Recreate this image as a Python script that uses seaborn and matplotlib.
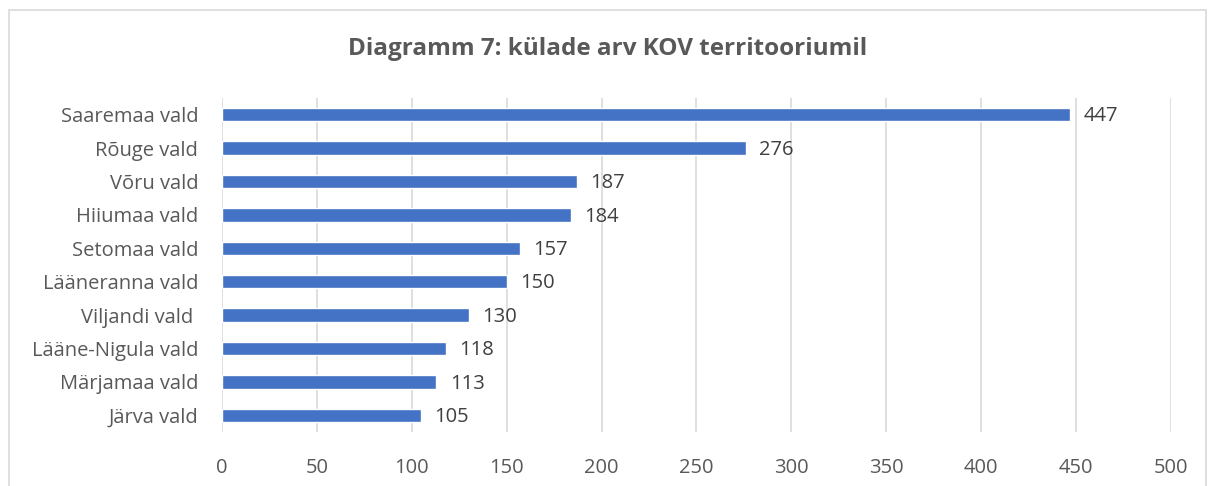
import pandas as pd
import matplotlib.pyplot as plt
import seaborn as sns
from matplotlib.patches import Rectangle

# village counts per municipality
municipalities = ['Saaremaa vald', 'Rõuge vald', 'Võru vald', 'Hiiumaa vald', 'Setomaa vald',
                  'Lääneranna vald', 'Viljandi vald ', 'Lääne-Nigula vald', 'Märjamaa vald', 'Järva vald']
villages = [447, 276, 187, 184, 157, 150, 130, 118, 113, 105]
x_ticks = [0, 50, 100, 150, 200, 250, 300, 350, 400, 450, 500]

df = pd.DataFrame({'kov': municipalities, 'kylad': villages})

sns.set_style('white')
plt.rcParams['font.family'] = ['Open Sans', 'DejaVu Sans']

fig = plt.figure(figsize=(12.15, 4.86), dpi=100)
ax = fig.add_axes([0.1827, 0.1111, 0.7811, 0.6873])

sns.barplot(data=df, x='kylad', y='kov', color='#4472C4', width=0.4, saturation=1, ax=ax)

ax.set_xlim(0, 500)
ax.set_xticks(x_ticks)
ax.grid(axis='x', color='#D9D9D9', linewidth=1.2)
ax.set_axisbelow(True)
for s in ax.spines.values():
    s.set_visible(False)
ax.tick_params(axis='both', length=0, labelsize=14.5, colors='#595959')
ax.tick_params(axis='x', pad=19)
ax.tick_params(axis='y', pad=17)
ax.set_xlabel('')
ax.set_ylabel('')

for i, v in enumerate(villages):
    ax.text(v + 7, i + 0.05, str(v), va='center', ha='left', fontsize=14.5, color='#404040')

fig.text(0.5, 0.9, 'Diagramm 7: külade arv KOV territooriumil', ha='center', va='center',
         fontsize=17.5, fontweight='bold', color='#595959')

# chart frame like Excel
fig.patches.append(Rectangle((9 / 1215, -0.05), 1197 / 1215, 1.05 - 10 / 486, transform=fig.transFigure,
                             fill=False, edgecolor='#D9D9D9', linewidth=1.2))

plt.savefig('out.png', dpi=100)
